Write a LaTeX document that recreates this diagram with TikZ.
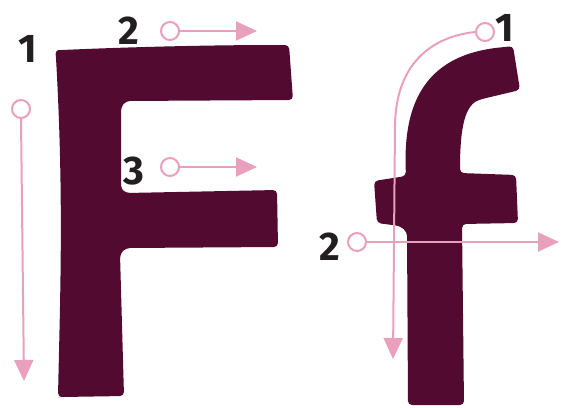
\documentclass[tikz,border=0pt]{standalone}
\usepackage{fontspec}
\setmainfont{Fira Sans}
\usetikzlibrary{arrows.meta}
\definecolor{lettercol}{RGB}{82,10,48}
\definecolor{guidecol}{RGB}{232,160,188}
\definecolor{inkcol}{RGB}{35,31,32}
\begin{document}
\begin{tikzpicture}[x=1pt,y=-1pt,
  guideline/.style={draw=guidecol,line width=2pt,-{Triangle[length=21pt,width=19pt]}},
  startdot/.style={circle,draw=guidecol,line width=2pt,fill=white,minimum size=18pt,inner sep=0pt},
  num/.style={text=inkcol,font=\fontsize{40}{40}\selectfont\bfseries,inner sep=0pt},
  glyph/.style={fill=lettercol,rounded corners=4pt}]
\useasboundingbox (0,0) rectangle (561,407);
% letter F
\path[glyph] (58,397) .. controls (60,300) and (64,200) .. (56,58)
  .. controls (55.5,52) and (57,50.3) .. (62,50)
  .. controls (130,47) and (210,45) .. (281,45)
  -- (289,45) -- (293,100) -- (126,101) -- (121,107) -- (121,189) -- (126,193)
  -- (277,190) -- (278,247) -- (126,248) -- (120,254) -- (124,396)
  -- (62,397) -- cycle;
% letter f
\path[glyph] (374,181) -- (406,176) .. controls (403,110) and (420,55) .. (505,47)
  -- (513,46) -- (520,90) -- (482,99) .. controls (463,106) and (460,135) .. (460,173)
  -- (516,175) -- (518,223) -- (462,224) -- (464,405) -- (408,405)
  -- (407,232) -- (400,226) -- (377,223) -- cycle;
% labels
\node[num] (l1) at (28,49) {1};
\node[num] (l2) at (129,31) {2};
\node[num] (l3) at (134,171) {3};
\node[num] (m1) at (505,28) {1};
\node[num] (m2) at (330,247) {2};
% guides for F
\node[startdot] (a1) at (21,109) {};
\coordinate (a1e) at (24,381);
\draw[guideline] (a1.south) -- (a1e);
\node[startdot] (a2) at (170,31) {};
\coordinate (a2e) at (257,31);
\draw[guideline] (a2.east) -- (a2e);
\node[startdot] (a3) at (170,167) {};
\coordinate (a3e) at (257,167);
\draw[guideline] (a3.east) -- (a3e);
% guides for f
\node[startdot] (b1) at (485,32) {};
\coordinate (b1e) at (393,359);
\draw[guideline] (b1.west) .. controls (430,37) and (396,65) .. (395,125) -- (b1e);
\node[startdot] (b2) at (357,242) {};
\coordinate (b2e) at (559,242);
\draw[guideline] (b2.east) -- (b2e);
\end{tikzpicture}
\end{document}
